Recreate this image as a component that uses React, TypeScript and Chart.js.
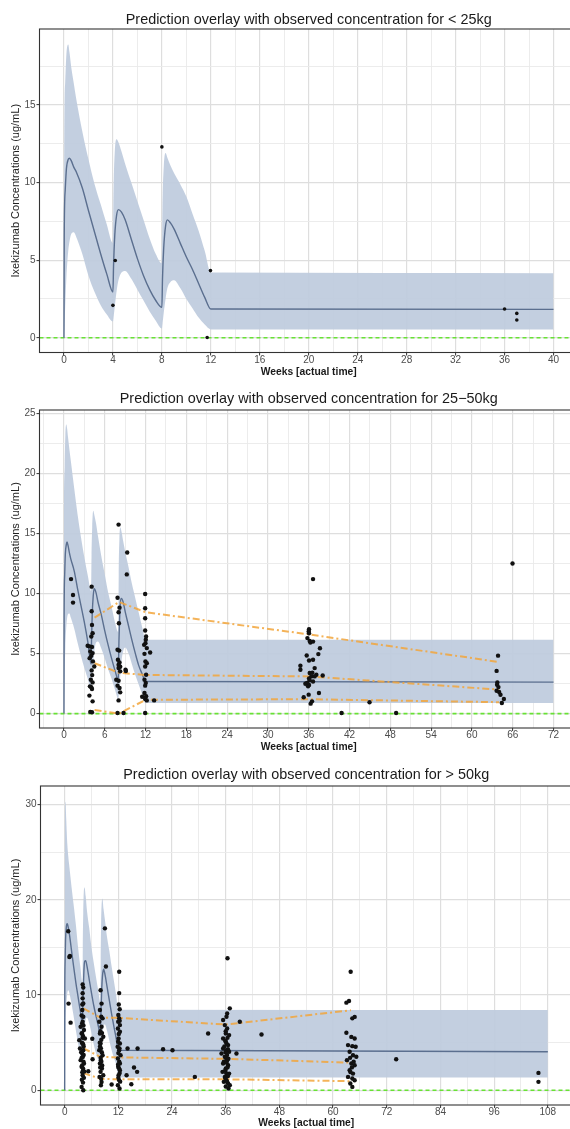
import React, { useEffect, useRef } from "react";
import { Chart, registerables } from "chart.js";

Chart.register(...registerables);

const FONT = "'Liberation Sans', Arial, Helvetica, sans-serif";
const BAND = "rgba(190, 203, 221, 0.92)";
const MEDIAN_LINE = "#5B6F8F";
const PCT_LINE = "rgba(242, 166, 60, 0.85)";
const ZERO_LINE = "rgb(104, 226, 52)";
const referenceLevel = 0;

const yAxisTitle = "Ixekizumab Concentrations (ug/mL)";
const xAxisTitle = "Weeks [actual time]";

// ---------- < 25 kg ----------
const p1Title = "Prediction overlay with observed concentration for < 25kg";
const p1Weeks = [0, 0.02, 0.1, 0.2, 0.35, 0.45, 0.6, 0.8, 1, 1.5, 2, 2.5, 3, 3.5, 4, 4.05, 4.15, 4.3, 4.45, 4.7, 5, 5.5, 6, 6.5, 7, 7.5, 8, 8.05, 8.15, 8.3, 8.45, 8.7, 9, 9.5, 10, 10.5, 11, 11.5, 12, 40];
const p1Median = [0, 6.5, 9.5, 10.9, 11.5, 11.57, 11.4, 11.0, 10.7, 9.65, 8.2, 6.8, 5.4, 4.1, 2.95, 4.6, 6.6, 7.9, 8.26, 8.1, 7.6, 6.35, 5.1, 4.0, 3.1, 2.4, 1.96, 3.8, 5.8, 7.2, 7.6, 7.4, 7.0, 6.1, 5.2, 4.4, 3.5, 2.6, 1.85, 1.83];
const p1Upper = [0, 12, 16.5, 18.3, 18.9, 18.4, 17.4, 16.4, 15.4, 13.3, 11.5, 9.9, 8.6, 7.3, 6.1, 9.5, 12.0, 12.8, 12.6, 12.0, 11.2, 10.0, 8.8, 7.6, 6.4, 5.4, 4.8, 8.5, 11.0, 11.9, 11.6, 11.1, 10.6, 9.9, 9.1, 8.0, 6.9, 5.6, 4.2, 4.16];
const p1Lower = [0, 0.5, 2.0, 3.9, 5.6, 6.2, 6.7, 6.8, 6.5, 5.4, 4.0, 2.95, 2.1, 1.5, 1.05, 1.3, 2.0, 3.0, 3.7, 4.2, 4.3, 3.8, 3.1, 2.4, 1.7, 1.1, 0.6, 0.9, 1.6, 2.5, 3.2, 3.6, 3.7, 3.2, 2.5, 1.9, 1.3, 0.85, 0.54, 0.54];
const p1Observed: [number, number][] = [
  [4.0, 2.09], [4.19, 4.98], [8.0, 12.3], [11.97, 4.33], [11.7, 0.02], [36.0, 1.85], [37.0, 1.57], [37.0, 1.14],
];
const p1XTicks = [0, 4, 8, 12, 16, 20, 24, 28, 32, 36, 40];
const p1YTicks = [0, 5, 10, 15];

// ---------- 25–50 kg ----------
const p2Title = "Prediction overlay with observed concentration for 25\u221250kg";
const p2Weeks = [0, 0.02, 0.1, 0.2, 0.35, 0.45, 0.6, 0.8, 1, 1.5, 2, 2.5, 3, 3.5, 4, 4.05, 4.15, 4.3, 4.45, 4.7, 5, 5.5, 6, 6.5, 7, 7.5, 8, 8.05, 8.15, 8.3, 8.45, 8.7, 9, 9.5, 10, 10.5, 11, 11.5, 12, 72];
const p2Median = [0, 8, 11.5, 13.3, 14.1, 14.3, 14.0, 13.4, 12.9, 11.9, 10.4, 9.0, 7.6, 6.0, 4.1, 6.0, 8.2, 9.8, 10.4, 10.1, 9.3, 8.2, 6.9, 5.7, 4.6, 3.6, 2.8, 5.0, 7.3, 9.3, 9.6, 9.3, 8.5, 7.3, 6.1, 5.0, 4.0, 3.3, 2.68, 2.62];
const p2Upper = [0, 14, 20.5, 23.2, 24.1, 23.8, 23.0, 22.0, 21.1, 18.8, 16.6, 14.7, 13.0, 11.5, 10.2, 13.0, 15.5, 16.9, 16.6, 15.9, 14.8, 13.1, 11.6, 10.1, 8.9, 7.6, 6.8, 11.5, 14.5, 15.5, 15.2, 14.4, 13.5, 12.2, 10.8, 9.6, 8.4, 7.2, 6.15, 6.15];
const p2Lower = [0, 1.0, 3.2, 5.5, 7.3, 7.9, 8.3, 8.35, 8.0, 7.1, 5.9, 4.8, 3.8, 2.9, 1.9, 2.2, 3.0, 4.2, 5.1, 5.9, 6.0, 5.4, 4.6, 3.7, 2.9, 2.0, 1.2, 1.5, 2.2, 3.3, 4.3, 5.2, 5.5, 5.0, 4.1, 3.2, 2.4, 1.6, 0.88, 0.88];
const p2PctWeeks = [4.5, 8.1, 12, 36, 64];
const p2P95 = [8.0, 9.3, 8.45, 6.6, 4.3];
const p2P50 = [4.2, 3.4, 3.22, 3.1, 2.0];
const p2P05 = [0.3, 0.0, 1.15, 1.2, 0.95];
const p2Observed: [number, number][] = [
  [1.04, 11.21], [1.33, 9.88], [1.33, 9.25],
  [4.07, 10.58], [4.07, 8.53], [4.12, 7.39], [4.21, 6.7], [4.02, 6.42], [3.48, 5.65], [3.77, 5.6], [4.12, 5.56], [3.87, 5.17], [4.21, 5.04], [4.02, 4.82], [3.77, 4.62], [4.26, 4.35], [4.46, 3.93], [4.07, 3.6], [4.15, 3.21], [3.95, 2.82], [4.21, 2.6], [3.82, 2.27], [4.02, 2.2], [4.12, 2.05], [3.74, 1.5], [4.21, 1.02], [3.87, 0.14], [4.12, 0.11],
  [8.03, 15.75], [9.3, 13.43], [9.24, 11.6], [7.88, 9.66], [8.17, 8.83], [8.03, 8.45], [8.08, 7.53], [7.88, 5.32], [8.12, 5.25], [7.93, 4.49], [8.17, 4.26], [8.03, 4.07], [8.27, 3.9], [8.03, 3.8], [8.27, 3.52], [9.05, 3.65], [9.1, 3.55], [7.69, 2.82], [8.03, 2.74], [7.88, 2.33], [8.17, 2.13], [8.27, 1.77], [8.03, 1.1], [7.88, 0.05], [8.76, 0.05],
  [11.94, 9.97], [11.94, 8.78], [11.94, 7.95], [11.94, 6.92], [12.08, 6.42], [12.03, 6.15], [11.98, 5.87], [11.79, 5.73], [12.18, 5.46], [11.84, 4.98], [12.67, 5.09], [11.98, 4.35], [12.18, 4.2], [11.94, 3.93], [12.08, 3.24], [11.84, 2.82], [12.03, 2.55], [11.94, 2.33], [11.84, 1.72], [12.08, 1.44], [11.94, 1.22], [12.18, 1.1], [13.26, 1.1], [11.94, 0.05], [11.5, 1.4],
  [36.63, 11.21], [36.04, 7.03], [35.99, 6.84], [36.04, 6.7], [35.8, 6.29], [36.14, 6.05], [36.24, 5.92], [36.63, 6.0], [37.65, 5.45], [35.7, 4.84], [37.41, 4.96], [36.04, 4.43], [36.63, 4.49], [34.77, 3.99], [34.77, 3.65], [36.87, 3.79], [36.14, 3.38], [36.53, 3.4], [37.12, 3.24], [36.38, 3.1], [36.87, 3.1], [36.04, 2.93], [38.05, 3.18], [36.14, 2.77], [35.75, 2.55], [36.63, 2.68], [36.04, 2.38], [35.5, 2.49], [35.9, 2.27], [37.5, 1.72], [35.26, 1.36], [35.99, 1.58], [36.48, 1.02], [36.28, 0.83],
  [40.83, 0.05], [44.94, 0.94], [48.85, 0.05],
  [63.84, 4.83], [63.63, 3.56], [63.74, 2.6], [63.7, 2.4], [63.9, 2.21], [63.63, 1.9], [64.0, 1.8], [64.2, 1.57], [64.7, 1.22], [64.4, 0.88], [65.97, 12.51],
];
const p2XTicks = [0, 6, 12, 18, 24, 30, 36, 42, 48, 54, 60, 66, 72];
const p2YTicks = [0, 5, 10, 15, 20, 25];

// ---------- > 50 kg ----------
const p3Title = "Prediction overlay with observed concentration for > 50kg";
const p3Weeks = [0, 0.02, 0.1, 0.2, 0.35, 0.45, 0.6, 0.8, 1, 1.5, 2, 2.5, 3, 3.5, 4, 4.05, 4.15, 4.3, 4.45, 4.7, 5, 5.5, 6, 6.5, 7, 7.5, 8, 8.05, 8.15, 8.3, 8.45, 8.7, 9, 9.5, 10, 10.5, 11, 11.5, 12, 108];
const p3Median = [0, 9, 13.5, 15.8, 17.0, 17.4, 17.5, 17.1, 16.6, 14.8, 13.0, 11.3, 9.8, 8.3, 7.0, 8.5, 10.5, 12.5, 13.5, 13.6, 13.0, 11.6, 10.2, 8.9, 7.8, 6.8, 5.9, 7.0, 8.8, 10.8, 12.0, 12.7, 12.2, 10.8, 9.4, 8.0, 6.7, 5.5, 4.2, 4.04];
const p3Upper = [0, 24, 30.0, 30.3, 28.5, 27.3, 25.8, 24.6, 23.7, 21.5, 19.5, 17.4, 15.0, 13.0, 11.2, 15.0, 18.5, 21.0, 21.3, 20.4, 18.8, 17.0, 15.0, 13.4, 11.9, 10.5, 9.2, 13.5, 17.5, 19.8, 20.1, 19.0, 17.9, 16.0, 14.6, 13.0, 11.5, 10.0, 8.45, 8.42];
const p3Lower = [0, 1.5, 4.5, 7.0, 8.8, 9.5, 10.2, 10.5, 10.3, 9.2, 7.8, 6.3, 4.9, 3.6, 2.8, 3.2, 4.2, 5.6, 6.6, 7.4, 7.6, 7.0, 6.0, 4.8, 3.9, 3.2, 2.7, 3.0, 3.8, 5.0, 6.0, 6.8, 6.9, 6.2, 5.2, 4.2, 3.4, 2.7, 1.35, 1.35];
const p3PctWeeks = [4.2, 8.0, 12, 36, 64];
const p3P95 = [8.6, 7.6, 7.6, 6.9, 8.4];
const p3P50 = [4.4, 3.5, 3.45, 3.3, 2.9];
const p3P05 = [1.8, 1.2, 1.15, 1.15, 0.95];
const p3Observed: [number, number][] = [
  [0.8, 16.7], [1.18, 14.1], [1.05, 14.0], [0.87, 9.1], [1.33, 7.1],
  [4.02, 11.1], [4.16, 10.78], [4.02, 10.19], [4.02, 9.65], [4.16, 9.12], [3.94, 8.42], [3.79, 7.86], [4.16, 7.72], [4.02, 7.19], [3.57, 6.67], [4.31, 6.32], [3.79, 5.96], [3.27, 5.26], [4.53, 5.44], [4.02, 4.91], [3.42, 4.39], [4.16, 4.21], [3.94, 3.86], [3.57, 3.16], [4.31, 2.81], [3.79, 2.46], [4.16, 2.11], [4.02, 1.58], [4.38, 1.96], [3.79, 0.35], [4.16, 0.0],
  [3.9, 6.0], [4.1, 5.7], [3.85, 5.0], [4.25, 4.6], [3.7, 4.0], [4.05, 3.5], [4.2, 3.0], [3.9, 2.6], [4.1, 2.3], [3.95, 1.9], [4.3, 1.3], [3.85, 1.1], [4.1, 0.8], [3.9, 7.0], [4.2, 6.8], [3.95, 9.0], [4.0, 5.5], [4.15, 4.8], [3.8, 3.4], [4.25, 3.7],
  [5.28, 2.0], [6.17, 5.4], [6.24, 3.26],
  [9.0, 17.0], [9.22, 13.0], [8.03, 10.5], [8.25, 9.1], [7.88, 8.42], [8.18, 7.72], [8.48, 7.55], [7.73, 7.19], [8.25, 6.67], [7.88, 5.96], [8.63, 5.61], [8.03, 4.91], [7.73, 4.21], [8.48, 3.68], [8.1, 3.16], [7.88, 2.81], [8.33, 2.28], [8.03, 1.93], [7.8, 1.4], [8.63, 1.58], [8.25, 0.87], [8.1, 0.53], [10.5, 0.6],
  [8.0, 6.2], [8.2, 5.3], [7.9, 4.6], [8.3, 4.0], [8.05, 3.4], [8.4, 2.6], [7.95, 2.4], [8.15, 1.2], [8.35, 6.0], [7.85, 5.0], [8.1, 4.4], [8.2, 3.0],
  [12.19, 12.45], [12.19, 10.2], [12.19, 7.55], [11.97, 7.19], [12.35, 6.84], [11.9, 6.49], [12.35, 6.14], [12.05, 5.44], [12.35, 4.91], [11.84, 4.56], [12.19, 4.21], [12.5, 3.68], [11.9, 3.33], [12.35, 2.81], [11.97, 2.46], [12.35, 2.11], [12.05, 1.58], [12.19, 1.05], [11.9, 0.53], [12.27, 0.18],
  [12.0, 7.9], [12.3, 7.3], [12.1, 5.9], [11.95, 5.1], [12.25, 4.4], [12.0, 3.9], [12.2, 3.0], [11.95, 2.7], [12.15, 2.3], [12.3, 1.8], [12.0, 1.3], [12.4, 0.9], [12.1, 9.0], [12.3, 8.5],
  [14.06, 4.39], [16.3, 4.39], [13.84, 1.58], [15.5, 2.39], [16.2, 1.93], [14.9, 0.63], [22.0, 4.3], [24.1, 4.2], [29.1, 1.4], [32.07, 5.96],
  [36.4, 13.86], [36.91, 8.6], [36.32, 8.07], [36.17, 7.72], [35.42, 7.37], [35.8, 6.84], [36.32, 6.49], [36.02, 5.96], [36.76, 5.79], [35.42, 5.44], [36.02, 5.09], [36.54, 4.74], [35.42, 4.39], [36.17, 4.21], [36.76, 4.04], [35.06, 3.86], [35.8, 3.51], [36.32, 3.16], [35.42, 2.81], [36.54, 2.63], [36.02, 2.28], [35.28, 1.93], [36.76, 1.75], [35.8, 1.4], [36.17, 1.05], [35.57, 0.88], [36.54, 0.7], [36.91, 0.53], [36.62, 0.18],
  [36.0, 6.2], [36.4, 5.5], [35.9, 5.2], [36.2, 4.9], [35.7, 4.6], [36.5, 4.3], [35.95, 4.0], [36.3, 3.7], [36.0, 3.4], [36.6, 3.3], [35.6, 3.0], [36.2, 2.9], [36.4, 2.4], [35.9, 2.1], [36.1, 1.8], [36.5, 1.5], [35.95, 1.2], [36.3, 0.9], [36.0, 0.4],
  [38.4, 3.86], [39.15, 7.2], [44.0, 5.86],
  [63.93, 12.45], [62.97, 9.2], [63.56, 9.37], [64.3, 7.55], [64.82, 7.7], [62.97, 6.03], [64.08, 5.6], [64.82, 5.44], [63.34, 4.74], [64.3, 4.63], [65.04, 4.56], [63.7, 4.04], [64.45, 3.68], [65.19, 3.51], [63.1, 3.16], [64.08, 2.81], [64.82, 2.63], [63.7, 2.11], [64.45, 1.75], [63.34, 1.4], [64.3, 1.23], [64.82, 1.05], [63.85, 0.7], [64.3, 0.35],
  [63.8, 3.4], [64.2, 2.4], [63.9, 1.9], [64.6, 3.0],
  [74.1, 3.26], [105.9, 1.82], [105.9, 0.88],
];
const p3XTicks = [0, 12, 24, 36, 48, 60, 72, 84, 96, 108];
const p3YTicks = [0, 10, 20, 30];

type Panel = {
  title: string;
  weeks: number[];
  median: number[];
  upper: number[];
  lower: number[];
  observed: [number, number][];
  pctWeeks?: number[];
  pct?: number[][];
  xMin: number;
  xMax: number;
  xStep: number;
  xTicks: number[];
  yMin: number;
  yMax: number;
  yStep: number;
  yTicks: number[];
  dot: number;
};

type Frame = {
  top: number;
  width: number;
  height: number;
  yAxisWidth: number;
  padRight: number;
  titlePadTop: number;
  titlePadBottom: number;
  xAxisHeight: number;
  xTitlePadBottom: number;
};

const panels: { panel: Panel; frame: Frame }[] = [
  {
    panel: {
      title: p1Title, weeks: p1Weeks, median: p1Median, upper: p1Upper, lower: p1Lower,
      observed: p1Observed, xMin: -2, xMax: 42, xStep: 2, xTicks: p1XTicks,
      yMin: -0.95, yMax: 19.9, yStep: 2.5, yTicks: p1YTicks, dot: 1.8,
    },
    frame: { top: 0, width: 582, height: 380, yAxisWidth: 39.5, padRight: 3.5, titlePadTop: 11.36, titlePadBottom: 0.36, xAxisHeight: 27.5, xTitlePadBottom: 1.8 },
  },
  {
    panel: {
      title: p2Title, weeks: p2Weeks, median: p2Median, upper: p2Upper, lower: p2Lower,
      observed: p2Observed, pctWeeks: p2PctWeeks, pct: [p2P95, p2P50, p2P05],
      xMin: -3.6, xMax: 75.6, xStep: 3, xTicks: p2XTicks,
      yMin: -1.2, yMax: 25.3, yStep: 2.5, yTicks: p2YTicks, dot: 2.2,
    },
    frame: { top: 380, width: 582, height: 375, yAxisWidth: 39.5, padRight: 3.5, titlePadTop: 10.36, titlePadBottom: 2.36, xAxisHeight: 27, xTitlePadBottom: 1.3 },
  },
  {
    panel: {
      title: p3Title, weeks: p3Weeks, median: p3Median, upper: p3Upper, lower: p3Lower,
      observed: p3Observed, pctWeeks: p3PctWeeks, pct: [p3P95, p3P50, p3P05],
      xMin: -5.4, xMax: 113.4, xStep: 6, xTicks: p3XTicks,
      yMin: -1.55, yMax: 31.95, yStep: 5, yTicks: p3YTicks, dot: 2.2,
    },
    frame: { top: 757, width: 582, height: 372, yAxisWidth: 40.5, padRight: 10, titlePadTop: 9.36, titlePadBottom: 2.36, xAxisHeight: 24, xTitlePadBottom: 0 },
  },
];

const isListed = (list: number[], v: number | undefined) =>
  v !== undefined && list.some((t) => Math.abs(t - v) < 1e-6);

// dashed horizontal reference at the zero concentration level
const zeroReference = {
  id: "zeroReference",
  beforeDatasetsDraw(chart: any) {
    const { ctx, chartArea: a, scales } = chart;
    const y = scales.y.getPixelForValue(referenceLevel);
    ctx.save();
    ctx.strokeStyle = ZERO_LINE;
    ctx.lineWidth = 1.6;
    ctx.setLineDash([4, 3]);
    ctx.beginPath();
    ctx.moveTo(a.left, y);
    ctx.lineTo(a.right, y);
    ctx.stroke();
    ctx.restore();
  },
};

// dark frame round the plotting panel
const panelFrame = {
  id: "panelFrame",
  afterDatasetsDraw(chart: any) {
    const { ctx, chartArea: a } = chart;
    ctx.save();
    ctx.strokeStyle = "#333333";
    ctx.lineWidth = 1.1;
    ctx.strokeRect(a.left, a.top, a.right - a.left, a.bottom - a.top);
    ctx.restore();
  },
};

function gridFor(major: number[]) {
  return {
    color: (c: any) => (isListed(major, c.tick?.value) ? "#DEDEDE" : "#EAEAEA"),
    lineWidth: (c: any) => (isListed(major, c.tick?.value) ? 1.2 : 0.9),
    tickColor: (c: any) => (isListed(major, c.tick?.value) ? "#333333" : "rgba(0,0,0,0)"),
    tickLength: 3,
    tickWidth: 1,
    drawTicks: true,
  };
}

function buildConfig(p: Panel, f: Frame): any {
  const curve = (ys: number[]) => p.weeks.map((w, i) => ({ x: w, y: ys[i] }));
  const pctSets = (p.pct || []).map((ys) => ({
    type: "line",
    data: (p.pctWeeks || []).map((w, i) => ({ x: w, y: ys[i] })),
    borderColor: PCT_LINE,
    borderWidth: 2,
    borderDash: [7, 3, 2, 3],
    pointRadius: 0,
    tension: 0,
    fill: false,
    order: 1,
  }));

  return {
    type: "line",
    data: {
      datasets: [
        {
          data: p.observed.map(([x, y]) => ({ x, y })),
          showLine: false,
          pointRadius: p.dot,
          pointBackgroundColor: "#111111",
          pointBorderWidth: 0,
          order: 0,
        },
        ...pctSets,
        {
          data: curve(p.median),
          borderColor: MEDIAN_LINE,
          borderWidth: 1.4,
          pointRadius: 0,
          cubicInterpolationMode: "monotone",
          fill: false,
          order: 2,
        },
        {
          data: curve(p.upper),
          borderWidth: 0,
          borderColor: "rgba(0,0,0,0)",
          backgroundColor: BAND,
          pointRadius: 0,
          cubicInterpolationMode: "monotone",
          fill: "+1",
          order: 3,
        },
        {
          data: curve(p.lower),
          borderWidth: 0,
          borderColor: "rgba(0,0,0,0)",
          pointRadius: 0,
          cubicInterpolationMode: "monotone",
          fill: false,
          order: 4,
        },
      ],
    },
    options: {
      responsive: false,
      animation: false,
      devicePixelRatio: 1,
      events: [],
      layout: { padding: { left: 0, right: f.padRight, top: 0, bottom: 0 } },
      plugins: {
        legend: { display: false },
        tooltip: { enabled: false },
        title: {
          display: true,
          text: p.title,
          fullSize: false,
          color: "#1A1A1A",
          font: { family: FONT, size: 14.4, weight: "normal" },
          padding: { top: f.titlePadTop, bottom: f.titlePadBottom },
        },
      },
      scales: {
        x: {
          type: "linear",
          min: p.xMin,
          max: p.xMax,
          border: { display: false },
          grid: gridFor(p.xTicks),
          ticks: {
            stepSize: p.xStep,
            includeBounds: false,
            autoSkip: false,
            maxRotation: 0,
            padding: -1.5,
            color: "#4D4D4D",
            font: { family: FONT, size: 10 },
            callback: (v: number) => {
              const t = p.xTicks.find((m) => Math.abs(m - v) < 1e-6);
              return t === undefined ? "" : String(t);
            },
          },
          title: {
            display: true,
            text: xAxisTitle,
            color: "#1A1A1A",
            font: { family: FONT, size: 10.3, weight: "bold" },
            padding: { top: 0, bottom: f.xTitlePadBottom },
          },
          afterFit: (s: any) => {
            s.height = f.xAxisHeight;
          },
        },
        y: {
          type: "linear",
          min: p.yMin,
          max: p.yMax,
          border: { display: false },
          grid: gridFor(p.yTicks),
          ticks: {
            stepSize: p.yStep,
            includeBounds: false,
            autoSkip: false,
            padding: 1,
            color: "#4D4D4D",
            font: { family: FONT, size: 10 },
            callback: (v: number) => {
              const t = p.yTicks.find((m) => Math.abs(m - v) < 1e-6);
              return t === undefined ? "" : String(t);
            },
          },
          title: {
            display: true,
            text: yAxisTitle,
            color: "#222222",
            font: { family: FONT, size: 11 },
            padding: { top: 9.4, bottom: 0 },
          },
          afterFit: (s: any) => {
            s.width = f.yAxisWidth;
          },
        },
      },
    },
    plugins: [zeroReference, panelFrame],
  };
}

function ConcentrationPanel({ panel, frame }: { panel: Panel; frame: Frame }) {
  const ref = useRef<HTMLCanvasElement | null>(null);
  useEffect(() => {
    if (!ref.current) return;
    const chart = new Chart(ref.current, buildConfig(panel, frame));
    return () => chart.destroy();
  }, [panel, frame]);
  return (
    <canvas
      ref={ref}
      width={frame.width}
      height={frame.height}
      style={{ position: "absolute", left: 0, top: frame.top, width: frame.width, height: frame.height }}
    />
  );
}

export default function App() {
  return (
    <div
      style={{
        position: "absolute",
        left: 0,
        top: 0,
        width: 570,
        height: 1129,
        overflow: "hidden",
        background: "#ffffff",
      }}
    >
      {panels.map((item, i) => (
        <ConcentrationPanel key={i} panel={item.panel} frame={item.frame} />
      ))}
    </div>
  );
}
